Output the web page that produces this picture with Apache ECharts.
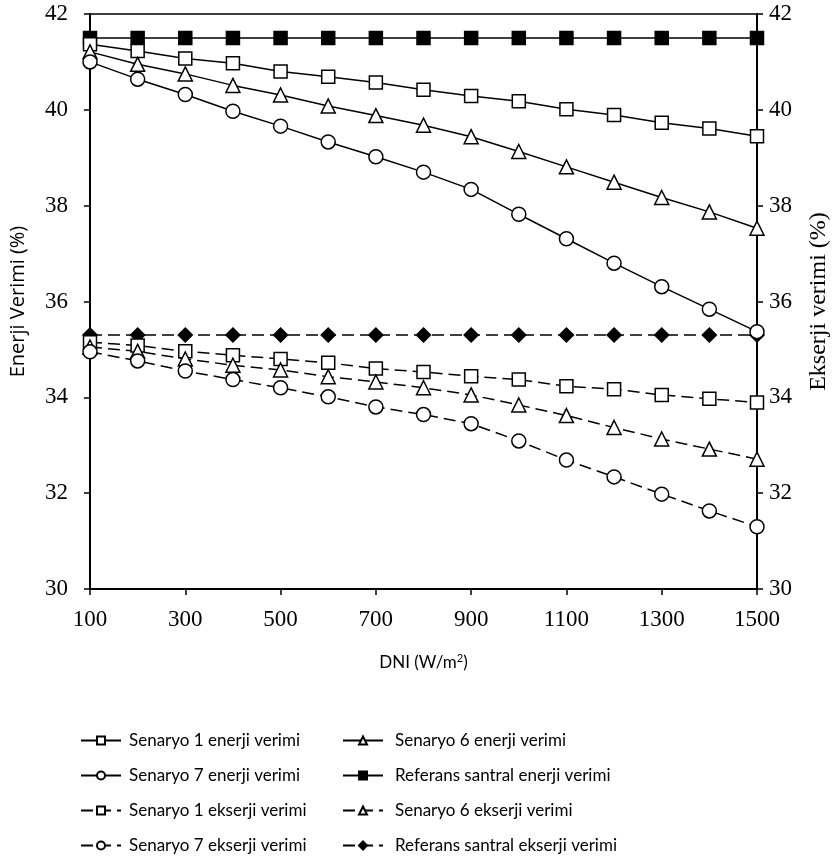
<!DOCTYPE html>
<html><head><meta charset="utf-8">
<script src="https://cdn.jsdelivr.net/npm/echarts@6/dist/echarts.min.js"></script>
<style>html,body{margin:0;padding:0;background:#fff}#c{width:840px;height:866px}</style>
</head><body><div id="c"></div>
<script>
const dni = ['100','200','300','400','500','600','700','800','900','1000','1100','1200','1300','1400','1500'];
const s1Energy = [41.37,41.23,41.07,40.97,40.80,40.69,40.57,40.42,40.29,40.18,40.01,39.89,39.73,39.61,39.45];
const s6Energy = [41.21,40.95,40.75,40.51,40.31,40.08,39.88,39.68,39.44,39.13,38.81,38.49,38.17,37.87,37.53];
const s7Energy = [41.00,40.64,40.32,39.97,39.66,39.33,39.02,38.70,38.34,37.82,37.31,36.80,36.31,35.84,35.37];
const refEnergy = [41.5,41.5,41.5,41.5,41.5,41.5,41.5,41.5,41.5,41.5,41.5,41.5,41.5,41.5,41.5];
const s1Exergy = [35.15,35.08,34.96,34.88,34.80,34.72,34.60,34.53,34.44,34.37,34.23,34.17,34.05,33.97,33.89];
const s6Exergy = [35.05,34.96,34.80,34.67,34.57,34.43,34.32,34.20,34.05,33.84,33.62,33.37,33.13,32.92,32.71];
const s7Exergy = [34.95,34.76,34.55,34.37,34.20,34.01,33.80,33.64,33.45,33.09,32.69,32.34,31.98,31.63,31.30];
const refExergy = [35.3,35.3,35.3,35.3,35.3,35.3,35.3,35.3,35.3,35.3,35.3,35.3,35.3,35.3,35.3];

const names = {
  s1e:'Senaryo 1 enerji verimi', s6e:'Senaryo 6 enerji verimi',
  s7e:'Senaryo 7 enerji verimi', rfe:'Referans santral enerji verimi',
  s1x:'Senaryo 1 ekserji verimi', s6x:'Senaryo 6 ekserji verimi',
  s7x:'Senaryo 7 ekserji verimi', rfx:'Referans santral ekserji verimi'
};

function ser(name, data, symbol, size, filled, dashed) {
  return {
    name, type:'line', data, symbol, symbolSize:size,
    showAllSymbol:true,
    lineStyle:{color:'#000', width:1.5, type: dashed ? [12,6] : 'solid'},
    itemStyle:{color: filled ? '#000' : '#fff', borderColor:'#000', borderWidth:1.5},
    emphasis:{disabled:true}, animation:false, z: filled ? 3 : 4
  };
}

const serif = '"Liberation Serif", "Times New Roman", serif';
const sans = 'Lato, "Noto Sans", sans-serif';

// legend layout: [name, column, row]
const legendLayout = [
  [names.s1e,0,0],[names.s6e,1,0],
  [names.s7e,0,1],[names.rfe,1,1],
  [names.s1x,0,2],[names.s6x,1,2],
  [names.s7x,0,3],[names.rfx,1,3]
];
const legends = legendLayout.map(([n,c,r]) => ({
  data:[n], orient:'horizontal', left: c === 0 ? 80 : 342, top: 732 + r*35, padding:0,
  itemWidth:40, itemHeight:10, itemGap:0,
  textStyle:{fontFamily:sans, fontSize:17, color:'#000', padding:[0,0,0, c === 0 ? 3 : 7]}, selectedMode:false
}));

const chart = echarts.init(document.getElementById('c'), null, {renderer:'canvas'});
chart.setOption({
  backgroundColor:'#fff',
  animation:false,
  grid:{left:89, right:83, top:14, bottom:277, show:true, borderColor:'#000', borderWidth:1.5, backgroundColor:'transparent'},
  legend: legends,
  xAxis:{
    type:'category', data:dni, boundaryGap:false,
    name:'{a|DNI (W/m}{s|2}{a|)}', nameLocation:'middle', nameGap:64,
    nameTextStyle:{rich:{a:{fontFamily:sans, fontSize:17, color:'#000'}, s:{fontFamily:sans, fontSize:11, color:'#000', verticalAlign:'top', padding:[0,0,8,0]}}},
    axisLine:{lineStyle:{color:'#000', width:2}},
    axisTick:{interval:1, inside:false, length:6, lineStyle:{color:'#000', width:1.5}},
    axisLabel:{interval:1, fontFamily:serif, fontSize:23, color:'#000', margin:19},
    splitLine:{show:false}
  },
  yAxis:[
    {type:'value', min:30, max:42, interval:2, position:'left',
     name:'Enerji Verimi (%)', nameLocation:'middle', nameRotate:90, nameGap:62,
     nameTextStyle:{fontFamily:'"Open Sans", sans-serif', fontSize:20, color:'#000'},
     axisLine:{show:true, lineStyle:{color:'#000', width:2}},
     axisTick:{show:true, length:6, lineStyle:{color:'#000', width:1.5}},
     axisLabel:{fontFamily:serif, fontSize:23, color:'#000', margin:22},
     splitLine:{show:false}},
    {type:'value', min:30, max:42, interval:2, position:'right',
     name:'Ekserji verimi (%)', nameLocation:'middle', nameRotate:90, nameGap:50,
     nameTextStyle:{fontFamily:serif, fontSize:24, color:'#000'},
     axisLine:{show:true, lineStyle:{color:'#000', width:2}},
     axisTick:{show:true, length:6, lineStyle:{color:'#000', width:1.5}},
     axisLabel:{fontFamily:serif, fontSize:23, color:'#000', margin:12},
     splitLine:{show:false}}
  ],
  series:[
    ser(names.s1e, s1Energy, 'rect', 13, false, false),
    ser(names.s6e, s6Energy, 'triangle', 14, false, false),
    ser(names.s7e, s7Energy, 'circle', 14, false, false),
    ser(names.rfe, refEnergy, 'rect', 13, true, false),
    ser(names.s1x, s1Exergy, 'rect', 13, false, true),
    ser(names.s6x, s6Exergy, 'triangle', 14, false, true),
    ser(names.s7x, s7Exergy, 'circle', 14, false, true),
    ser(names.rfx, refExergy, 'diamond', 14, true, true)
  ]
});
</script></body></html>
